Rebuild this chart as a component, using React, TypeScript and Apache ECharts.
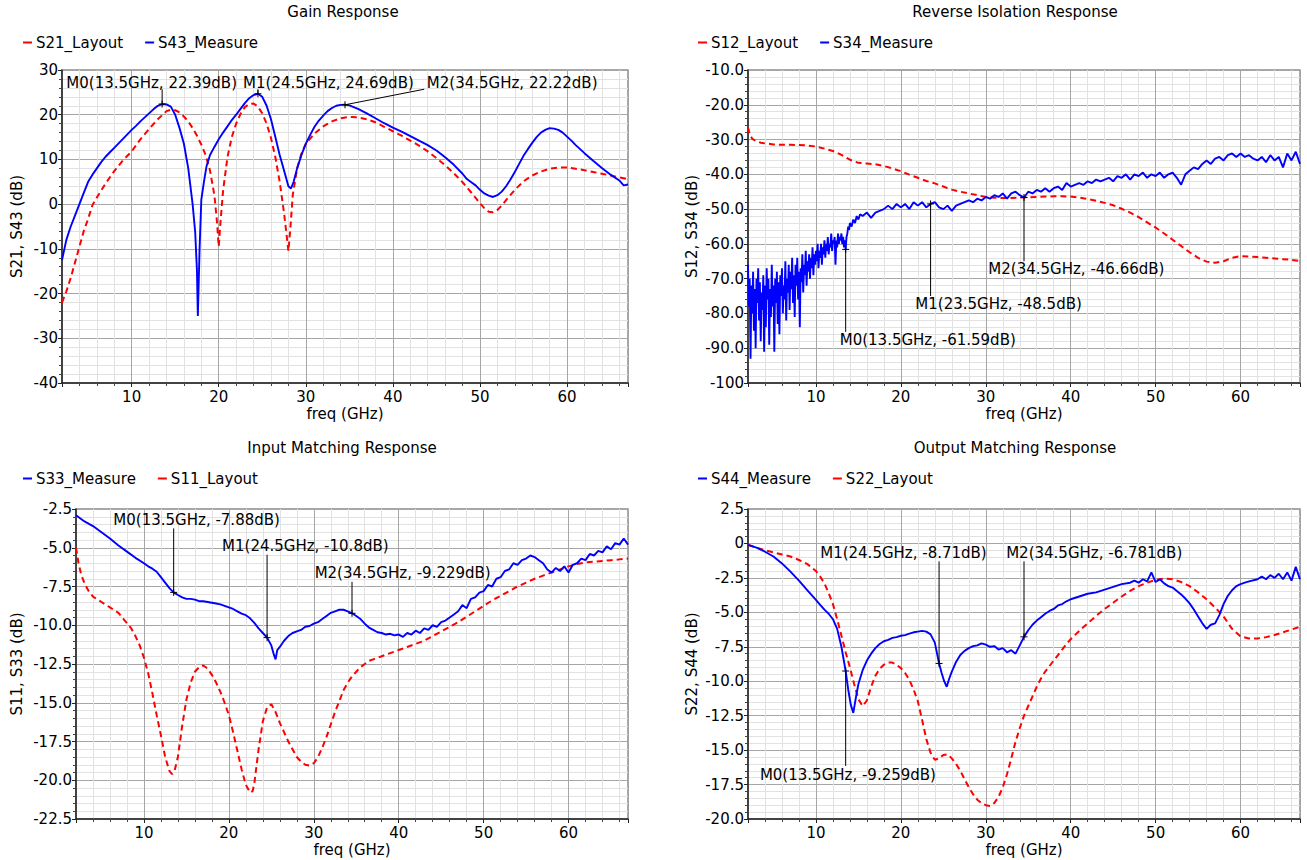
import React, { useEffect, useRef } from "react";
import * as echarts from "echarts";

const FREQ_MIN = 2;
const FREQ_MAX = 67;
const RED = "#ff0000";
const BLUE = "#0000ff";
const FONT = "DejaVu Sans";
const FS = 15;

// ---------- Gain ----------
const S21_LAYOUT: number[][] = [
  [2, -22], [2.5, -19.5], [3, -16.5], [3.5, -13], [4, -9.5], [4.5, -6], [5, -3.3], [5.5, -0.2], [6, 1.5], [7, 4.6], [8, 7.4], [9, 9.8], [10, 11.8], [11, 14.5], [12, 16.8], [13, 19], [14, 20.8], [14.5, 21.1], [15, 21], [15.5, 20.5], [16, 19.6], [16.5, 18.5], [17, 17], [17.5, 15.3], [18, 13.3], [18.5, 11], [19, 7.5], [19.5, 2], [19.8, -4], [20, -9.5], [20.2, -4], [20.5, 3], [21, 10.5], [21.5, 15], [22, 18], [22.5, 20.2], [23, 21.7], [23.5, 22.4], [24, 22.5], [24.5, 21.8], [25, 20.3], [25.5, 18], [26, 14.8], [26.5, 10.5], [27, 5], [27.5, -2], [27.8, -7], [28, -10.5], [28.2, -6], [28.5, 2], [29, 8], [29.5, 11.3], [30, 13.5], [31, 15.8], [32, 17.4], [33, 18.5], [34, 19.2], [35, 19.5], [36, 19.4], [37, 19], [38, 18.3], [39, 17.3], [40, 16.3], [41, 15.3], [42, 14.2], [43, 13.1], [44, 11.8], [45, 10.3], [46, 8.7], [47, 6.9], [48, 4.9], [49, 2.6], [49.5, 1.4], [50, 0.2], [50.5, -0.9], [51, -1.7], [51.5, -1.8], [52, -1.3], [52.5, -0.3], [53, 0.9], [54, 3.2], [55, 5.1], [56, 6.4], [57, 7.3], [58, 7.9], [59, 8.2], [60, 8.2], [61, 7.9], [62, 7.6], [63, 7.2], [64, 6.8], [65, 6.4], [66, 6], [67, 5.6],
];
const S43_MEASURE: number[][] = [
  [2, -12.5], [2.5, -8], [3, -5], [3.5, -2.5], [4, 0], [4.5, 2.5], [5, 5], [5.5, 6.6], [6, 8], [6.5, 9.4], [7, 10.6], [7.5, 11.6], [8, 12.6], [8.5, 13.6], [9, 14.6], [9.5, 15.6], [10, 16.6], [10.5, 17.5], [11, 18.5], [11.5, 19.4], [12, 20.3], [12.5, 21.2], [13, 22], [13.5, 22.39], [14, 22.3], [14.5, 21.8], [15, 20], [15.5, 17], [16, 13.5], [16.5, 8], [17, 0], [17.3, -6.4], [17.5, -15], [17.6, -25], [17.8, -10], [18, 1], [18.3, 5], [18.6, 8.5], [19, 11], [19.5, 12.8], [20, 14.5], [20.5, 16], [21, 17.4], [21.5, 18.8], [22, 20], [22.5, 21.3], [23, 22.6], [23.5, 23.7], [24, 24.4], [24.5, 24.69], [25, 24], [25.5, 22], [26, 19], [26.5, 15], [27, 11], [27.5, 7.5], [28, 4], [28.3, 3.5], [28.6, 5], [29, 8], [29.5, 11], [30, 13.5], [30.5, 15.5], [31, 17.3], [31.5, 18.7], [32, 19.8], [32.5, 20.8], [33, 21.5], [33.5, 22], [34, 22.2], [34.5, 22.22], [35, 22.1], [35.5, 21.7], [36, 21.3], [37, 20.3], [38, 19.2], [39, 18.1], [40, 17.1], [41, 16.2], [42, 15.2], [43, 14.2], [44, 13.2], [45, 12], [46, 10.5], [47, 8.8], [48, 6.8], [48.5, 5.6], [49, 4.9], [49.5, 4.2], [50, 3.2], [50.5, 2.4], [51, 1.9], [51.5, 1.6], [52, 2], [52.5, 2.8], [53, 4], [53.5, 5.5], [54, 7.2], [54.5, 9], [55, 10.8], [55.5, 12.3], [56, 13.7], [56.5, 15], [57, 16], [57.5, 16.6], [58, 17], [58.5, 16.9], [59, 16.6], [59.5, 16], [60, 15.1], [60.5, 14.2], [61, 13.2], [62, 11.4], [63, 9.7], [64, 8.1], [65, 6.6], [66, 5.3], [66.5, 4.2], [67, 4.4],
];
const GAIN_MARKERS = [
  { name: "M0", f: 13.5, v: 22.39 },
  { name: "M1", f: 24.5, v: 24.69 },
  { name: "M2", f: 34.5, v: 22.22 },
];

// ---------- Reverse isolation ----------
const S12_LAYOUT: number[][] = [
  [2, -26.5], [2.2, -28.5], [2.5, -29.8], [3, -30.5], [3.5, -30.9], [4, -31.1], [5, -31.4], [6, -31.5], [7, -31.5], [8, -31.6], [9, -31.7], [10, -32], [11, -32.6], [12, -33.3], [13, -34.4], [14, -35.8], [15, -36.7], [16, -36.9], [17, -37.1], [18, -37.6], [19, -38.3], [20, -39.1], [21, -40.1], [22, -41], [23, -41.9], [24, -42.6], [25, -43.5], [26, -44.4], [27, -45], [28, -45.5], [29, -46], [30, -46.5], [31, -46.7], [32, -46.8], [33, -46.8], [34, -46.7], [35, -46.6], [36, -46.5], [37, -46.4], [38, -46.3], [39, -46.3], [40, -46.4], [41, -46.7], [42, -47.1], [43, -47.6], [44, -48.2], [45, -48.9], [46, -49.9], [47, -51], [48, -52.3], [49, -53.8], [50, -55.3], [51, -57], [52, -58.8], [53, -60.6], [54, -62.4], [55, -64], [56, -65.1], [57, -65.4], [58, -65], [59, -64], [60, -63.5], [61, -63.6], [62, -63.8], [63, -64], [64, -64.2], [65, -64.4], [66, -64.6], [67, -64.9],
];
const S34_MEASURE: number[][] = [
  [2.0, -66], [2.1, -78], [2.2, -70], [2.3, -93], [2.4, -72], [2.5, -80], [2.6, -68], [2.7, -85], [2.8, -73], [2.9, -90], [3.0, -70], [3.1, -77], [3.2, -67], [3.3, -82], [3.4, -71], [3.5, -88], [3.6, -74], [3.7, -79], [3.8, -69], [3.9, -91], [4.0, -72], [4.1, -84], [4.2, -67], [4.3, -76], [4.4, -70], [4.5, -89], [4.6, -73], [4.7, -81], [4.8, -66], [4.9, -78], [5.0, -72], [5.1, -91], [5.2, -70], [5.3, -77], [5.4, -68], [5.5, -83], [5.6, -71], [5.7, -86], [5.8, -69], [5.9, -75], [6.0, -67], [6.1, -80], [6.2, -72], [6.3, -76], [6.4, -65], [6.5, -82], [6.6, -70], [6.7, -74], [6.8, -66], [6.9, -79], [7.0, -68], [7.1, -73], [7.2, -64], [7.3, -77], [7.4, -69], [7.5, -81], [7.6, -66], [7.7, -72], [7.8, -64], [7.9, -76], [8.0, -68], [8.1, -84], [8.2, -67], [8.3, -71], [8.4, -63], [8.5, -74], [8.6, -66], [8.7, -69], [8.8, -62], [8.9, -72], [9.0, -65], [9.1, -68], [9.2, -63], [9.3, -70], [9.4, -64], [9.5, -67], [9.6, -61], [9.7, -69], [9.8, -63], [9.9, -66], [10.0, -62], [10.1, -65], [10.2, -60], [10.3, -67], [10.4, -62], [10.5, -64], [10.6, -60], [10.7, -66], [10.8, -61], [10.9, -63], [11.0, -59], [11.1, -64], [11.2, -60], [11.3, -62], [11.4, -58], [11.5, -63], [11.6, -60], [11.7, -61], [11.8, -57], [11.9, -62], [12.0, -59], [12.1, -60], [12.2, -58], [12.3, -66], [12.4, -59], [12.5, -61], [12.6, -57], [12.7, -60], [12.8, -58], [12.9, -59], [13.0, -57], [13.1, -60], [13.2, -58], [13.3, -61], [13.4, -59], [13.5, -61.59], [13.6, -58], [13.7, -57], [13.8, -55], [13.9, -56], [14.0, -54], [14.2, -55], [14.4, -53], [14.6, -54], [14.8, -52], [15, -53], [15.2, -51.5], [15.5, -52], [16, -51], [16.5, -52.5], [17, -51], [17.5, -50.5], [18, -50], [18.5, -49], [19, -50], [19.5, -48.5], [20, -49.5], [20.5, -48.5], [21, -50], [21.5, -48], [22, -49], [22.5, -48], [23, -49.5], [23.5, -48.5], [24, -48], [24.5, -49.5], [25, -50], [25.5, -49], [26, -50.5], [26.5, -49], [27, -48.5], [27.5, -48], [28, -47.5], [28.5, -48], [29, -47], [29.5, -47.5], [30, -46.5], [30.5, -47], [31, -46], [31.5, -46.5], [32, -45.5], [32.5, -47], [33, -45.5], [33.5, -45], [34, -46], [34.5, -46.66], [35, -45], [35.5, -45.5], [36, -44.5], [36.5, -45], [37, -44], [37.5, -45], [38, -44], [38.5, -43.5], [39, -44.5], [39.5, -42.5], [40, -43.5], [40.5, -43], [41, -42.5], [41.5, -43], [42, -42], [42.5, -42.5], [43, -41.5], [43.5, -42], [44, -41.5], [44.5, -41], [45, -42], [45.5, -40.5], [46, -41], [46.5, -40], [47, -41.5], [47.5, -40], [48, -40.5], [48.5, -39.5], [49, -41], [49.5, -40], [50, -40.5], [50.5, -39.5], [51, -41], [51.5, -40], [52, -39.5], [52.5, -41], [53, -43], [53.5, -40], [54, -39], [54.5, -38], [55, -38.5], [55.5, -37], [56, -36], [56.5, -37], [57, -35.5], [57.5, -35], [58, -36], [58.5, -34.5], [59, -34], [59.5, -35], [60, -34], [60.5, -35], [61, -34.5], [61.5, -35.5], [62, -36], [62.5, -35], [63, -36.5], [63.5, -34.5], [64, -36], [64.5, -35], [65, -38], [65.5, -34], [66, -36], [66.5, -33.5], [67, -37],
];
const ISO_MARKERS = [
  { name: "M0", f: 13.5, v: -61.59 },
  { name: "M1", f: 23.5, v: -48.5 },
  { name: "M2", f: 34.5, v: -46.66 },
];

// ---------- Input matching ----------
const S33_MEASURE: number[][] = [
  [2, -2.9], [3, -3.3], [4, -3.6], [5, -4.0], [6, -4.4], [7, -4.85], [8, -5.25], [9, -5.65], [10, -6.0], [10.5, -6.2], [11, -6.35], [11.5, -6.55], [12, -6.9], [12.5, -7.25], [13, -7.6], [13.5, -7.88], [14, -8.05], [14.5, -8.2], [15, -8.3], [15.5, -8.3], [16, -8.35], [16.5, -8.45], [17, -8.45], [17.5, -8.5], [18, -8.55], [18.5, -8.6], [19, -8.65], [19.5, -8.75], [20, -8.85], [20.5, -8.95], [21, -9.1], [21.5, -9.25], [22, -9.35], [22.5, -9.55], [23, -9.85], [23.5, -10.2], [24, -10.5], [24.5, -10.8], [25, -11.3], [25.3, -11.9], [25.5, -12.2], [25.7, -11.6], [26, -11.4], [26.5, -11], [27, -10.7], [27.5, -10.5], [28, -10.4], [28.5, -10.3], [29, -10.1], [29.5, -10.05], [30, -9.9], [30.5, -9.8], [31, -9.6], [31.5, -9.4], [32, -9.2], [32.5, -9.1], [33, -9.0], [33.5, -9.0], [34, -9.1], [34.5, -9.229], [35, -9.4], [35.5, -9.6], [36, -9.9], [36.5, -10.15], [37, -10.3], [37.5, -10.45], [38, -10.5], [38.5, -10.6], [39, -10.55], [39.5, -10.65], [40, -10.6], [40.5, -10.75], [41, -10.5], [41.5, -10.6], [42, -10.35], [42.5, -10.5], [43, -10.2], [43.5, -10.3], [44, -10.0], [44.5, -10.1], [45, -9.8], [45.5, -9.7], [46, -9.5], [46.5, -9.3], [47, -9.1], [47.5, -8.7], [48, -8.9], [48.5, -8.3], [49, -8.2], [49.5, -7.9], [50, -7.8], [50.5, -7.4], [51, -7.5], [51.5, -7.0], [52, -6.9], [52.5, -6.5], [53, -6.4], [53.5, -6.0], [54, -6.1], [54.5, -5.8], [55, -5.7], [55.5, -5.5], [56, -5.6], [56.5, -5.8], [57, -6.0], [57.5, -6.4], [58, -6.6], [58.5, -6.3], [59, -6.5], [59.5, -6.2], [60, -6.6], [60.5, -6.1], [61, -6.0], [61.5, -5.7], [62, -5.8], [62.5, -5.4], [63, -5.5], [63.5, -5.2], [64, -5.3], [64.5, -4.9], [65, -5.1], [65.5, -4.7], [66, -4.8], [66.5, -4.4], [67, -4.8],
];
const S11_LAYOUT: number[][] = [
  [2, -5], [2.3, -6], [2.6, -6.7], [3, -7.3], [3.5, -7.8], [4, -8.15], [5, -8.5], [6, -8.85], [7, -9.2], [7.6, -9.6], [8.5, -10.2], [9, -10.7], [9.5, -11.3], [10, -12.1], [10.5, -13.1], [11, -14.4], [11.5, -15.8], [12, -17.1], [12.5, -18.5], [13, -19.4], [13.3, -19.6], [13.6, -19.4], [14, -18.5], [14.5, -16.5], [15, -14.8], [15.5, -13.7], [16, -13.0], [16.5, -12.7], [17, -12.6], [17.5, -12.8], [18, -13.2], [18.5, -13.7], [19, -14.3], [19.5, -15.0], [20, -15.8], [20.5, -16.9], [21, -18.1], [21.5, -19.3], [22, -20.3], [22.5, -20.8], [22.8, -20.7], [23, -20.2], [23.5, -18.0], [24, -16.2], [24.5, -15.3], [25, -15.1], [25.5, -15.6], [26, -16.3], [26.5, -16.9], [27, -17.5], [27.5, -18.0], [28, -18.5], [28.5, -18.8], [29, -19.0], [29.5, -19.05], [30, -18.9], [30.5, -18.5], [31, -17.9], [31.5, -17.2], [32, -16.4], [32.5, -15.6], [33, -14.9], [33.5, -14.2], [34, -13.7], [34.5, -13.3], [35, -13.0], [35.5, -12.7], [36, -12.5], [36.5, -12.3], [37, -12.2], [38, -12.0], [39, -11.8], [40, -11.6], [41, -11.4], [42, -11.2], [43, -11.0], [44, -10.7], [45, -10.4], [46, -10.1], [47, -9.8], [48, -9.45], [49, -9.1], [50, -8.75], [51, -8.4], [52, -8.1], [53, -7.8], [54, -7.5], [55, -7.25], [56, -7.0], [57, -6.8], [58, -6.6], [59, -6.4], [60, -6.2], [61, -6.05], [62, -5.95], [63, -5.9], [64, -5.85], [65, -5.8], [66, -5.75], [67, -5.7],
];
const IN_MARKERS = [
  { name: "M0", f: 13.5, v: -7.88 },
  { name: "M1", f: 24.5, v: -10.8 },
  { name: "M2", f: 34.5, v: -9.229 },
];

// ---------- Output matching ----------
const S44_MEASURE: number[][] = [
  [2, -0.1], [3, -0.3], [4, -0.6], [5, -0.95], [6, -1.45], [7, -2.05], [8, -2.7], [9, -3.4], [10, -4.1], [10.5, -4.45], [11, -4.8], [11.5, -5.1], [12, -5.5], [12.5, -6.2], [13, -7.5], [13.5, -9.259], [13.8, -10.6], [14.1, -11.7], [14.4, -12.3], [14.7, -11.2], [15, -10.2], [15.5, -9.2], [16, -8.5], [16.5, -8.0], [17, -7.6], [17.5, -7.3], [18, -7.1], [18.5, -7.0], [19, -6.85], [19.5, -6.8], [20, -6.7], [20.5, -6.65], [21, -6.55], [21.5, -6.45], [22, -6.4], [22.5, -6.35], [23, -6.4], [23.5, -6.6], [24, -7.2], [24.5, -8.71], [24.8, -9.4], [25.1, -10], [25.4, -10.4], [25.7, -9.8], [26, -9.3], [26.5, -8.6], [27, -8.1], [27.5, -7.8], [28, -7.6], [28.5, -7.45], [29, -7.4], [29.5, -7.25], [30, -7.35], [30.5, -7.5], [31, -7.45], [31.5, -7.7], [32, -7.6], [32.5, -7.9], [33, -7.75], [33.5, -8.0], [34, -7.4], [34.5, -6.781], [35, -6.3], [35.5, -5.9], [36, -5.6], [36.5, -5.35], [37, -5.1], [37.5, -4.9], [38, -4.75], [38.5, -4.5], [39, -4.4], [39.5, -4.2], [40, -4.05], [41, -3.85], [42, -3.65], [43, -3.55], [44, -3.35], [45, -3.15], [46, -2.95], [47, -2.85], [47.5, -2.7], [48, -2.85], [48.5, -2.6], [49, -2.75], [49.5, -2.1], [50, -2.8], [50.5, -2.6], [51, -2.9], [51.5, -3.1], [52, -3.2], [52.5, -3.45], [53, -3.7], [53.5, -4.0], [54, -4.35], [54.5, -4.8], [55, -5.3], [55.5, -5.8], [56, -6.2], [56.5, -5.9], [57, -5.8], [57.5, -5.2], [58, -4.4], [58.5, -3.8], [59, -3.4], [59.5, -3.1], [60, -2.95], [60.5, -2.85], [61, -2.75], [62, -2.6], [62.5, -2.4], [63, -2.6], [63.5, -2.3], [64, -2.5], [64.5, -2.2], [65, -2.6], [65.5, -2.1], [66, -2.7], [66.5, -1.7], [67, -2.6],
];
const S22_LAYOUT: number[][] = [
  [2, -0.1], [3, -0.3], [4, -0.5], [5, -0.65], [6, -0.8], [7, -0.95], [8, -1.2], [9, -1.5], [10, -2.0], [10.5, -2.4], [11, -2.9], [11.5, -3.6], [12, -4.4], [12.5, -5.5], [13, -6.7], [13.5, -7.9], [14, -9.0], [14.5, -10.2], [15, -11.3], [15.5, -11.8], [16, -11.4], [16.5, -10.4], [17, -9.6], [17.5, -9.1], [18, -8.8], [18.5, -8.65], [19, -8.65], [19.5, -8.8], [20, -9.05], [20.5, -9.4], [21, -9.9], [21.5, -10.6], [22, -11.45], [22.5, -12.8], [23, -14.2], [23.5, -15.2], [24, -15.7], [24.5, -15.6], [25, -15.35], [25.5, -15.3], [26, -15.6], [26.5, -16.0], [27, -16.5], [27.5, -17.1], [28, -17.7], [28.5, -18.2], [29, -18.6], [29.5, -18.85], [30, -19.0], [30.5, -19.05], [31, -18.85], [31.5, -18.4], [32, -17.7], [32.5, -16.75], [33, -15.6], [33.5, -14.4], [34, -13.4], [34.5, -12.5], [35, -11.8], [35.5, -11.1], [36, -10.4], [36.5, -9.8], [37, -9.3], [37.5, -8.9], [38, -8.5], [38.5, -8.1], [39, -7.7], [39.5, -7.3], [40, -6.95], [41, -6.35], [42, -5.8], [43, -5.25], [44, -4.75], [45, -4.3], [46, -3.85], [47, -3.45], [48, -3.1], [49, -2.85], [50, -2.65], [51, -2.55], [52, -2.6], [53, -2.8], [54, -3.1], [55, -3.55], [56, -4.05], [57, -4.65], [58, -5.3], [59, -6.2], [60, -6.75], [61, -6.9], [62, -6.9], [63, -6.8], [64, -6.65], [65, -6.45], [66, -6.25], [67, -6.05],
];
const OUT_MARKERS = [
  { name: "M0", f: 13.5, v: -9.259 },
  { name: "M1", f: 24.5, v: -8.71 },
  { name: "M2", f: 34.5, v: -6.781 },
];

// marker label placement (data coordinates): text anchor (tx, ty), leader end (ex, ey)
const GAIN_LABEL_POS = [
  { tx: 2.5, ty: 27.2, ex: 13.5, ey: 25.7 },
  { tx: 22.8, ty: 27.2, ex: 24.5, ey: 25.7 },
  { tx: 43.9, ty: 27.2, ex: 43.6, ey: 25.7 },
];
const ISO_LABEL_POS = [
  { tx: 12.8, ty: -87.6, ex: 13.5, ey: -85.3 },
  { tx: 21.7, ty: -77.3, ex: 23.5, ey: -75.0 },
  { tx: 30.3, ty: -67.3, ex: 34.5, ey: -65.0 },
];
const IN_LABEL_POS = [
  { tx: 6.4, ty: -3.2, ex: 13.5, ey: -3.75 },
  { tx: 19.2, ty: -4.9, ex: 24.5, ey: -5.45 },
  { tx: 30.1, ty: -6.65, ex: 34.5, ey: -7.2 },
];
const OUT_LABEL_POS = [
  { tx: 3.4, ty: -16.8, ex: 13.5, ey: -16.15 },
  { tx: 10.5, ty: -0.7, ex: 24.5, ey: -1.3 },
  { tx: 32.4, ty: -0.7, ex: 34.5, ey: -1.3 },
];

type Trace = { name: string; data: number[][]; kind: "layout" | "measure" };
type Plot = {
  title: string; titleX: number; titleY: number;
  grid: { left: number; top: number; width: number; height: number };
  yMin: number; yMax: number; yStep: number; yName: string; yNameGap: number;
  yFmt: (v: number) => string;
  legendLeft: number; legendTop: number;
  traces: Trace[];
  markers: { name: string; f: number; v: number }[];
  labelPos: { tx: number; ty: number; ex: number; ey: number }[];
};

const PLOTS: Plot[] = [
  {
    title: "Gain Response", titleX: 343, titleY: 12,
    grid: { left: 62, top: 70, width: 566, height: 313 },
    yMin: -40, yMax: 30, yStep: 10, yName: "S21, S43 (dB)", yNameGap: 38,
    yFmt: (v) => String(v),
    legendLeft: 18, legendTop: 30,
    traces: [
      { name: "S21_Layout", data: S21_LAYOUT, kind: "layout" },
      { name: "S43_Measure", data: S43_MEASURE, kind: "measure" },
    ],
    markers: GAIN_MARKERS, labelPos: GAIN_LABEL_POS,
  },
  {
    title: "Reverse Isolation Response", titleX: 1015, titleY: 12,
    grid: { left: 748, top: 70, width: 552, height: 313 },
    yMin: -100, yMax: -10, yStep: 10, yName: "S12, S34 (dB)", yNameGap: 49,
    yFmt: (v) => (v === -100 ? "-100" : v.toFixed(1)),
    legendLeft: 693, legendTop: 30,
    traces: [
      { name: "S12_Layout", data: S12_LAYOUT, kind: "layout" },
      { name: "S34_Measure", data: S34_MEASURE, kind: "measure" },
    ],
    markers: ISO_MARKERS, labelPos: ISO_LABEL_POS,
  },
  {
    title: "Input Matching Response", titleX: 342, titleY: 448,
    grid: { left: 76, top: 509, width: 552, height: 310 },
    yMin: -22.5, yMax: -2.5, yStep: 2.5, yName: "S11, S33 (dB)", yNameGap: 52,
    yFmt: (v) => v.toFixed(1),
    legendLeft: 18, legendTop: 466,
    traces: [
      { name: "S33_Measure", data: S33_MEASURE, kind: "measure" },
      { name: "S11_Layout", data: S11_LAYOUT, kind: "layout" },
    ],
    markers: IN_MARKERS, labelPos: IN_LABEL_POS,
  },
  {
    title: "Output Matching Response", titleX: 1015, titleY: 448,
    grid: { left: 748, top: 509, width: 552, height: 310 },
    yMin: -20, yMax: 2.5, yStep: 2.5, yName: "S22, S44 (dB)", yNameGap: 49,
    yFmt: (v) => (v === 0 ? "0" : v.toFixed(1)),
    legendLeft: 693, legendTop: 466,
    traces: [
      { name: "S44_Measure", data: S44_MEASURE, kind: "measure" },
      { name: "S22_Layout", data: S22_LAYOUT, kind: "layout" },
    ],
    markers: OUT_MARKERS, labelPos: OUT_LABEL_POS,
  },
];

function buildOption() {
  const grids: any[] = [];
  const xAxes: any[] = [];
  const yAxes: any[] = [];
  const legends: any[] = [];
  const series: any[] = [];
  const graphics: any[] = [];

  PLOTS.forEach((p, i) => {
    grids.push({ ...p.grid, show: true, borderColor: "#8c8c8c", borderWidth: 1.5, backgroundColor: "#ffffff" });
    xAxes.push({
      type: "value", gridIndex: i, min: FREQ_MIN, max: FREQ_MAX, splitNumber: 6,
      name: "freq (GHz)", nameLocation: "middle", nameGap: 23,
      nameTextStyle: { fontFamily: FONT, fontSize: FS, color: "#000" },
      axisLine: { show: true, onZero: false, lineStyle: { color: "#222", width: 1.5 } },
      axisTick: { show: true, length: 4, lineStyle: { color: "#222" } },
      minorTick: { show: true, splitNumber: 5, length: 3, lineStyle: { color: "#444" } },
      axisLabel: {
        fontFamily: FONT, fontSize: FS, color: "#000", margin: 6,
        formatter: (v: number) => (v % 10 === 0 ? String(v) : ""),
      },
      splitLine: { show: true, lineStyle: { color: "#a6a6a6", width: 1 } },
      minorSplitLine: { show: true, lineStyle: { color: "#e2e2e2", width: 1 } },
    });
    yAxes.push({
      type: "value", gridIndex: i, min: p.yMin, max: p.yMax, interval: p.yStep,
      name: p.yName, nameLocation: "middle", nameGap: p.yNameGap,
      nameTextStyle: { fontFamily: FONT, fontSize: FS, color: "#000" },
      axisLine: { show: true, onZero: false, lineStyle: { color: "#222", width: 1.5 } },
      axisTick: { show: true, length: 4, lineStyle: { color: "#222" } },
      minorTick: { show: true, splitNumber: 5, length: 3, lineStyle: { color: "#444" } },
      axisLabel: { fontFamily: FONT, fontSize: FS, color: "#000", margin: 4, formatter: p.yFmt },
      splitLine: { show: true, lineStyle: { color: "#a6a6a6", width: 1 } },
      minorSplitLine: { show: true, lineStyle: { color: "#e2e2e2", width: 1 } },
    });
    legends.push({
      left: p.legendLeft, top: p.legendTop, orient: "horizontal",
      data: p.traces.map((t) => t.name),
      icon: "rect", itemWidth: 9, itemHeight: 2, itemGap: 22,
      textStyle: { fontFamily: FONT, fontSize: FS, color: "#000", padding: [0, 0, 0, -1] },
    });
    graphics.push({
      type: "text", x: p.titleX, y: p.titleY,
      style: { text: p.title, fill: "#000", fontFamily: FONT, fontSize: FS, align: "center", verticalAlign: "middle" },
    });

    const layoutFirst = [...p.traces].sort((a, b) => (a.kind === "layout" ? -1 : 1) - (b.kind === "layout" ? -1 : 1));
    layoutFirst.forEach((t) => {
      const col = t.kind === "layout" ? RED : BLUE;
      series.push({
        type: "line", name: t.name, xAxisIndex: i, yAxisIndex: i, data: t.data,
        showSymbol: false, symbol: "none", animation: false,
        lineStyle: t.kind === "layout" ? { color: col, width: 2, type: [6, 4] } : { color: col, width: 1.9 },
        itemStyle: { color: col },
        z: t.kind === "layout" ? 3 : 4,
      });
    });

    const markers = p.markers;
    const pos = p.labelPos;
    series.push({
      type: "custom", name: "markers" + i, xAxisIndex: i, yAxisIndex: i,
      coordinateSystem: "cartesian2d", clip: false, z: 10, silent: true,
      encode: { x: 0, y: 1 },
      data: markers.map((m) => [m.f, m.v]),
      renderItem: (params: any, api: any) => {
        const m = markers[params.dataIndex];
        const lp = pos[params.dataIndex];
        const pt = api.coord([m.f, m.v]);
        const end = api.coord([lp.ex, lp.ey]);
        const tp = api.coord([lp.tx, lp.ty]);
        const ls = { stroke: "#000", lineWidth: 1 };
        return {
          type: "group",
          children: [
            { type: "line", shape: { x1: pt[0], y1: pt[1], x2: end[0], y2: end[1] }, style: ls },
            { type: "line", shape: { x1: pt[0] - 3.5, y1: pt[1], x2: pt[0] + 3.5, y2: pt[1] }, style: ls },
            { type: "line", shape: { x1: pt[0], y1: pt[1] - 3.5, x2: pt[0], y2: pt[1] + 3.5 }, style: ls },
            {
              type: "text", x: tp[0], y: tp[1],
              style: {
                text: `${m.name}(${m.f}GHz, ${m.v}dB)`, fill: "#000",
                fontFamily: FONT, fontSize: FS, align: "left", verticalAlign: "middle",
              },
            },
          ],
        };
      },
    });
  });

  return {
    animation: false,
    backgroundColor: "#ffffff",
    textStyle: { fontFamily: FONT },
    grid: grids,
    xAxis: xAxes,
    yAxis: yAxes,
    legend: legends,
    series,
    graphic: graphics,
  };
}

export default function App() {
  const ref = useRef<HTMLDivElement>(null);
  useEffect(() => {
    document.body.style.margin = "0";
    if (!ref.current) return;
    const chart = echarts.init(ref.current, undefined, { renderer: "svg" });
    chart.setOption(buildOption() as any);
    return () => chart.dispose();
  }, []);
  return <div ref={ref} style={{ width: 1307, height: 860, background: "#fff" }} />;
}
